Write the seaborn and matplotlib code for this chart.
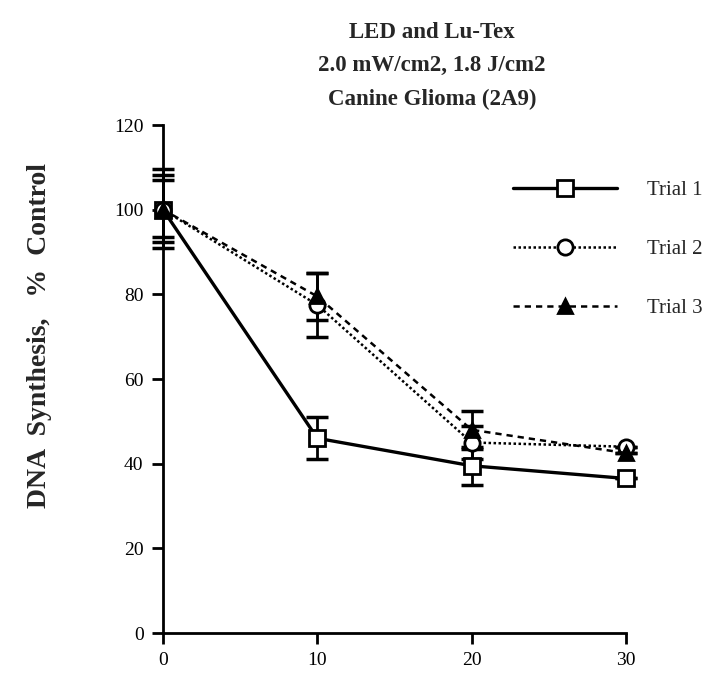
import matplotlib
matplotlib.use("Agg")
import matplotlib.pyplot as plt
from matplotlib.lines import Line2D
import seaborn as sns
import pandas as pd

sns.set_style("ticks")
plt.rcParams['font.family'] = ['Liberation Serif', 'DejaVu Serif']

times = [0, 10, 20, 30]
trial1 = [100, 46, 39.5, 36.5]
trial2 = [100, 77.5, 45, 44]
trial3 = [100, 79.5, 48, 42.5]
err1_lo = [9, 5, 4.5, 0]
err1_hi = [9.5, 5, 4.5, 0]
err2_lo = [7.6, 7.5, 4, 0]
err2_hi = [8.3, 7.5, 4, 0]
err3_lo = [6.4, 5.5, 4.5, 0]
err3_hi = [7.1, 5.5, 4.5, 0]
labels = ["Trial 1", "Trial 2", "Trial 3"]

rows = []
for lab, vals in zip(labels, [trial1, trial2, trial3]):
    for t, v in zip(times, vals):
        rows.append({"time": t, "value": v, "trial": lab})
df = pd.DataFrame(rows)

fig = plt.figure(figsize=(7.11, 6.77), dpi=100)
ax = fig.add_axes([163/711, 1-633/677, 463/711, 508/677])

styles = {
    "Trial 1": dict(ls="-", lw=2.4, marker="s", mfc="white", ms=11),
    "Trial 2": dict(ls=(0, (1, 1)), lw=1.8, marker="o", mfc="white", ms=11),
    "Trial 3": dict(ls=(0, (2.5, 2)), lw=1.8, marker="^", mfc="black", ms=10),
}
errs = {"Trial 1": [err1_lo, err1_hi], "Trial 2": [err2_lo, err2_hi],
        "Trial 3": [err3_lo, err3_hi]}
vals_map = {"Trial 1": trial1, "Trial 2": trial2, "Trial 3": trial3}

for lab in labels:
    st = styles[lab]
    sub = df[df.trial == lab]
    sns.lineplot(data=sub, x="time", y="value", ax=ax, color="black",
                 linestyle=st["ls"], linewidth=st["lw"], marker=st["marker"],
                 markerfacecolor=st["mfc"], markeredgecolor="black",
                 markeredgewidth=2, markersize=st["ms"], clip_on=False,
                 zorder=3, legend=False)
    ax.errorbar(times, vals_map[lab], yerr=errs[lab], fmt="none",
                ecolor="black", elinewidth=2, capsize=8, capthick=2.5,
                clip_on=False, zorder=2)

ax.set_xlim(0, 30)
ax.set_ylim(0, 120)
ax.set_xticks([0, 10, 20, 30])
ax.set_yticks([0, 20, 40, 60, 80, 100, 120])
sns.despine(ax=ax)
for s in ["left", "bottom"]:
    ax.spines[s].set_linewidth(2)
    ax.spines[s].set_color("black")
ax.tick_params(axis="both", direction="out", length=8, width=2, colors="black",
               labelsize=14, pad=6)
ax.set_xlabel("")
ax.set_ylabel("")

fig.text(40/711, 1-335/677, "DNA  Synthesis,   %  Control", rotation=90,
         ha="center", va="center", fontsize=20, fontweight="bold")

fig.text(432/711, 1-66/677, "LED and Lu-Tex\n2.0 mW/cm2, 1.8 J/cm2\nCanine Glioma (2A9)",
         ha="center", va="center", fontsize=16.5, fontweight="bold", linespacing=1.75)

handles = []
for lab in labels:
    st = styles[lab]
    handles.append(Line2D([], [], color="black", linestyle=st["ls"], linewidth=st["lw"],
                          marker=st["marker"], markerfacecolor=st["mfc"],
                          markeredgecolor="black", markeredgewidth=2,
                          markersize=st["ms"]))
fig.legend(handles, labels, loc="upper left", bbox_to_anchor=(505/711, 1-172/677),
           frameon=False, fontsize=15, handlelength=5.0, handletextpad=1.4,
           labelspacing=1.9, borderaxespad=0)

fig.savefig("out.png", dpi=100)
